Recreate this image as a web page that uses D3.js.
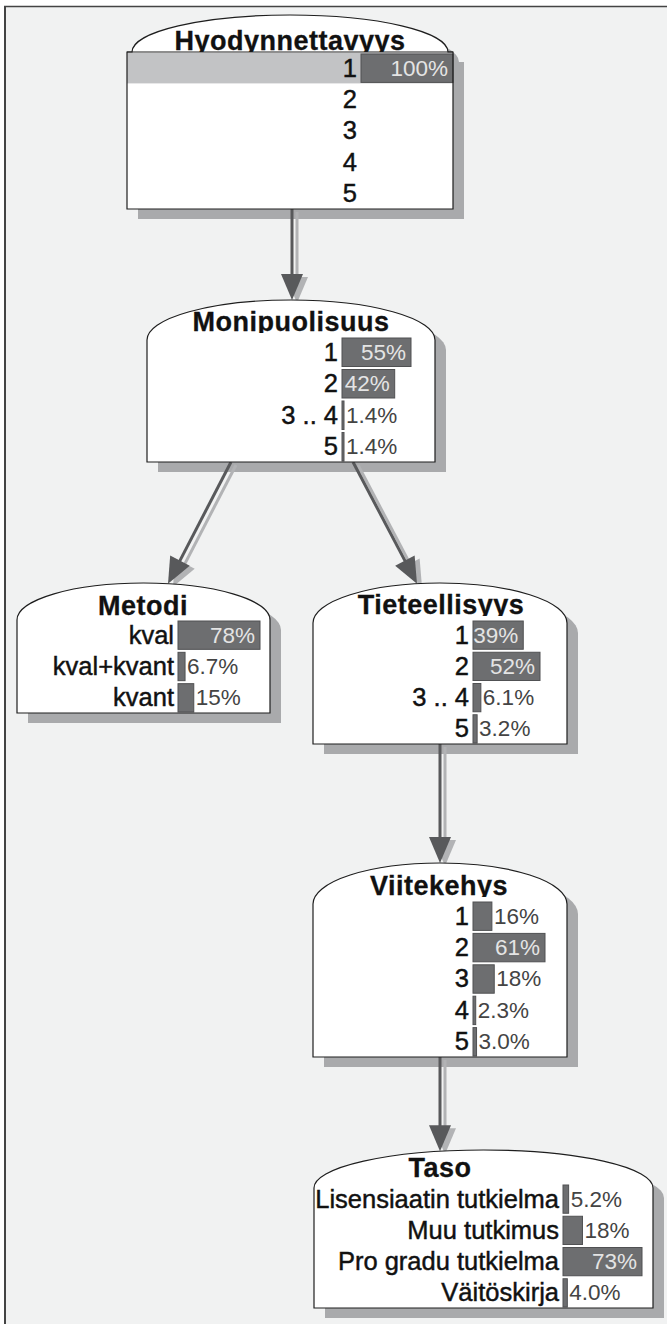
<!DOCTYPE html>
<html>
<head>
<meta charset="utf-8">
<script src="https://cdn.jsdelivr.net/npm/d3@7"></script>
<style>
  body { margin: 0; background: #fff; }
  svg { display: block; }
</style>
</head>
<body>
<svg width="667" height="1324"></svg>
<script>
// Node names and links of the network
const nodeNames = ["Hyodynnettavyys", "Monipuolisuus", "Metodi", "Tieteellisyys", "Viitekehys", "Taso"];
const links = [
    ["Hyodynnettavyys", "Monipuolisuus"],
    ["Monipuolisuus", "Metodi"],
    ["Monipuolisuus", "Tieteellisyys"],
    ["Tieteellisyys", "Viitekehys"],
    ["Viitekehys", "Taso"]
];

// States and beliefs (percent) of every node
const hyodStates = ["1", "2", "3", "4", "5"];
const hyodValues = [100, 0, 0, 0, 0];
const moniStates = ["1", "2", "3 .. 4", "5"];
const moniValues = [55, 42, 1.4, 1.4];
const metodiStates = ["kval", "kval+kvant", "kvant"];
const metodiValues = [78, 6.7, 15];
const tieteStates = ["1", "2", "3 .. 4", "5"];
const tieteValues = [39, 52, 6.1, 3.2];
const viiteStates = ["1", "2", "3", "4", "5"];
const viiteValues = [16, 61, 18, 2.3, 3.0];
const tasoStates = ["Lisensiaatin tutkielma", "Muu tutkimus", "Pro gradu tutkielma", "Väitöskirja"];
const tasoValues = [5.2, 18, 73, 4.0];

// Evidence entered in the network
const evidenceNode = "Hyodynnettavyys";
const evidenceState = "1";

const nodeData = {
    Hyodynnettavyys: { states: hyodStates, values: hyodValues },
    Monipuolisuus: { states: moniStates, values: moniValues },
    Metodi: { states: metodiStates, values: metodiValues },
    Tieteellisyys: { states: tieteStates, values: tieteValues },
    Viitekehys: { states: viiteStates, values: viiteValues },
    Taso: { states: tasoStates, values: tasoValues }
};

// Layout of the nodes on the page (box geometry only)
const layout = {
    Hyodynnettavyys: { left: 127, right: 453, top: 15, corner: 52, rowTop: 52, bottom: 209, titleX: 290, titleY: 50, barX: 361, barMax: 92, inset: 5 },
    Monipuolisuus: { left: 147, right: 435, top: 300, corner: 340, rowTop: 336, bottom: 462, titleX: 291, titleY: 331, barX: 342, barMax: 69, inset: 0 },
    Metodi: { left: 17, right: 270, top: 583, corner: 620, rowTop: 619, bottom: 713, titleX: 143, titleY: 615, barX: 178, barMax: 82, inset: 0 },
    Tieteellisyys: { left: 313, right: 567, top: 583, corner: 623, rowTop: 619, bottom: 744, titleX: 441, titleY: 614, barX: 473, barMax: 67, inset: 0 },
    Viitekehys: { left: 313, right: 567, top: 863, corner: 904, rowTop: 900, bottom: 1057, titleX: 439, titleY: 895, barX: 473, barMax: 72, inset: 0 },
    Taso: { left: 314, right: 653, top: 1150, corner: 1188, rowTop: 1183, bottom: 1308, titleX: 440, titleY: 1177, barX: 563, barMax: 79, inset: 0 }
};
// Where each link leaves its source and enters its target (x only)
const linkPorts = [
    { x1: 292, x2: 292 },
    { x1: 231, x2: 168 },
    { x1: 353, x2: 417 },
    { x1: 440, x2: 440 },
    { x1: 440, x2: 440 }
];

const FONT = "'Liberation Sans', Arial, sans-serif";
const SHADOW = { dx: 11, dy: 10 };

const svg = d3.select("svg");

// Background and window frame
svg.append("rect").attr("width", 667).attr("height", 1324).attr("fill", "#ffffff");
svg.append("rect").attr("x", 5).attr("y", 7).attr("width", 662).attr("height", 1317).attr("fill", "#f1f2f2");
svg.append("line").attr("x1", 4).attr("x2", 667).attr("y1", 6.5).attr("y2", 6.5)
    .attr("stroke", "#444").attr("stroke-width", 1.5);
svg.append("line").attr("x1", 5).attr("x2", 5).attr("y1", 6).attr("y2", 1324)
    .attr("stroke", "#444").attr("stroke-width", 2);

// Elliptic top of a node
function domeY(L, x) {
    const cx = (L.left + L.right) / 2;
    const a = (L.right - L.left) / 2 - L.inset;
    const b = L.corner - L.top;
    const t = Math.min(1, Math.abs(x - cx) / a);
    return L.corner - b * Math.sqrt(1 - t * t);
}

function nodePath(L) {
    const a = (L.right - L.left) / 2 - L.inset;
    const b = L.corner - L.top;
    if (L.inset > 0) {
        return `M${L.left},${L.bottom}L${L.left},${L.corner}L${L.left + L.inset},${L.corner}` +
            `A${a},${b} 0 0 1 ${L.right - L.inset},${L.corner}L${L.right},${L.corner}L${L.right},${L.bottom}Z`;
    }
    return `M${L.left},${L.bottom}L${L.left},${L.corner}A${a},${b} 0 0 1 ${L.right},${L.corner}L${L.right},${L.bottom}Z`;
}

const gShadow = svg.append("g");
const gLinks = svg.append("g");
const gNodes = svg.append("g");

// Node shadows
nodeNames.forEach(name => {
    gShadow.append("path")
        .attr("d", nodePath(layout[name]))
        .attr("transform", `translate(${SHADOW.dx},${SHADOW.dy})`)
        .attr("fill", "#a9aaac");
});

// Links with their light shadow
function arrow(g, x1, y1, x2, y2, color) {
    const len = Math.hypot(x2 - x1, y2 - y1);
    const ux = (x2 - x1) / len, uy = (y2 - y1) / len;
    const headL = 26, headW = 11;
    const bx = x2 - ux * headL, by = y2 - uy * headL;
    g.append("line")
        .attr("x1", x1).attr("y1", y1).attr("x2", bx + ux * 2).attr("y2", by + uy * 2)
        .attr("stroke", color).attr("stroke-width", 3);
    g.append("path")
        .attr("d", `M${x2},${y2}L${bx - uy * headW},${by + ux * headW}L${bx + uy * headW},${by - ux * headW}Z`)
        .attr("fill", color);
}

links.forEach((lk, i) => {
    const s = layout[lk[0]], t = layout[lk[1]];
    const p = linkPorts[i];
    const y1 = s.bottom, y2 = domeY(t, p.x2);
    arrow(gLinks.append("g").attr("transform", "translate(5,3)"), p.x1, y1, p.x2, y2, "#b2b3b5");
});
links.forEach((lk, i) => {
    const s = layout[lk[0]], t = layout[lk[1]];
    const p = linkPorts[i];
    arrow(gLinks, p.x1, s.bottom, p.x2, domeY(t, p.x2), "#58595b");
});

// Nodes
const pctFormat = v => (v >= 10 ? d3.format(".0f")(v) : d3.format(".1f")(v)) + "%";

nodeNames.forEach((name, ni) => {
    const L = layout[name];
    const d = nodeData[name];
    const g = gNodes.append("g");

    g.append("path")
        .attr("d", nodePath(L))
        .attr("fill", "#ffffff");

    const y = d3.scaleBand().domain(d.states).range([L.rowTop, L.bottom]);
    const x = d3.scaleLinear().domain([0, d3.max(d.values)]).range([0, L.barMax]);

    // title, descenders cut by the state rows
    const clipId = "clip" + ni;
    g.append("clipPath").attr("id", clipId)
        .append("rect")
        .attr("x", 0).attr("y", L.top - 10)
        .attr("width", 667).attr("height", L.titleY + 2 - (L.top - 10));
    g.append("text")
        .attr("clip-path", `url(#${clipId})`)
        .attr("x", L.titleX).attr("y", L.titleY)
        .attr("text-anchor", "middle")
        .attr("font-family", FONT).attr("font-size", 27).attr("font-weight", "bold")
        .attr("letter-spacing", 0.5)
        .attr("fill", "#111").attr("stroke", "#111").attr("stroke-width", 0.3)
        .text(name);

    // evidence highlight
    if (name === evidenceNode) {
        g.append("rect")
            .attr("x", L.left).attr("y", y(evidenceState) + 1)
            .attr("width", L.right - L.left).attr("height", y.bandwidth() - 1)
            .attr("fill", "#c2c3c5");
    }

    d.states.forEach((st, i) => {
        const v = d.values[i];
        const cy = y(st) + y.bandwidth() / 2;
        g.append("text")
            .attr("x", L.barX - 4).attr("y", cy).attr("dy", "0.35em")
            .attr("text-anchor", "end")
            .attr("font-family", FONT).attr("font-size", 25.5)
            .attr("fill", "#111").attr("stroke", "#111").attr("stroke-width", 0.45)
            .text(st);
        if (v <= 0) return;
        const w = Math.max(2, x(v));
        g.append("rect")
            .attr("x", L.barX).attr("y", y(st) + 2)
            .attr("width", w).attr("height", y.bandwidth() - 3)
            .attr("fill", "#6d6e70")
            .attr("stroke", "#505153").attr("stroke-width", 1);
        const t = g.append("text")
            .attr("y", cy).attr("dy", "0.35em")
            .attr("font-family", FONT).attr("font-size", 22.5)
            .text(pctFormat(v));
        const tw = t.node().getComputedTextLength();
        if (tw + 5 <= w) {
            t.attr("x", L.barX + w - 5).attr("text-anchor", "end").attr("fill", "#e4e4e4");
        } else {
            t.attr("x", L.barX + w + 2).attr("text-anchor", "start").attr("fill", "#444");
        }
    });

    // outline on top of everything in the node
    g.append("path")
        .attr("d", nodePath(L))
        .attr("fill", "none")
        .attr("stroke", "#1e1e1e").attr("stroke-width", 1.2);
    if (L.inset > 0) {
        g.append("line")
            .attr("x1", L.left).attr("x2", L.right).attr("y1", L.corner).attr("y2", L.corner)
            .attr("stroke", "#1e1e1e").attr("stroke-width", 1.2);
    }
});
</script>
</body>
</html>
